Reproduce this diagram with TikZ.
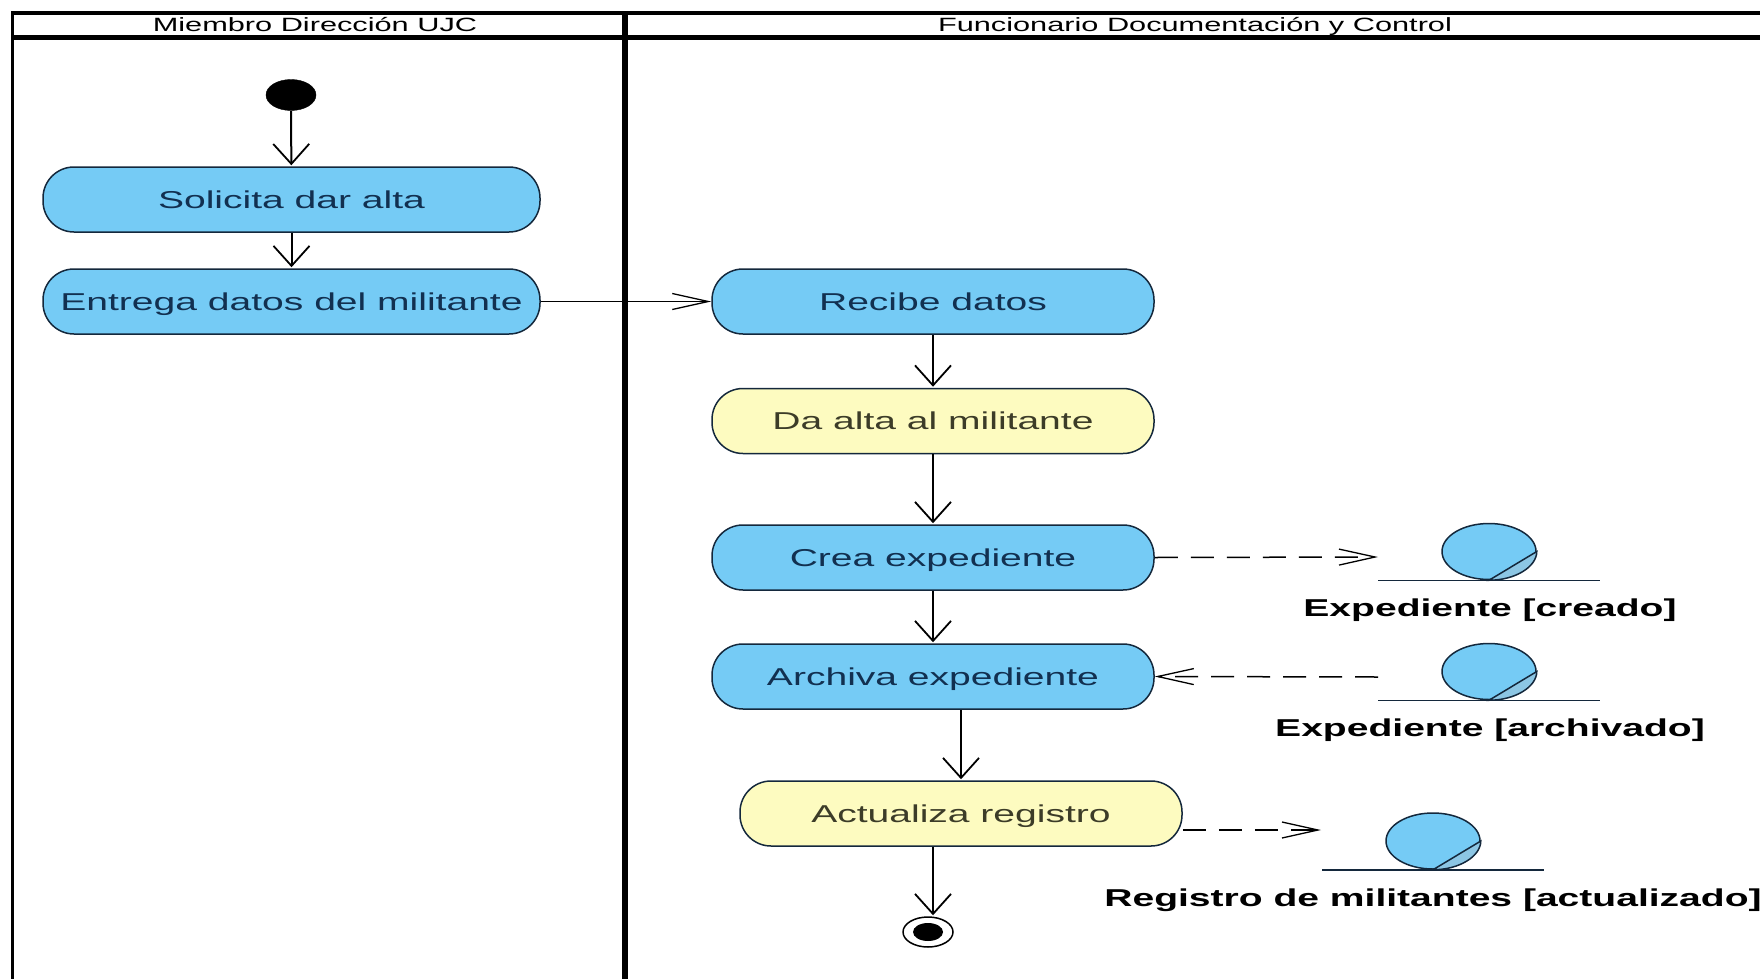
\documentclass[tikz,border=0pt]{standalone}
\usepackage{fontspec}
\setmainfont[FakeStretch=1.6]{Liberation Sans}
\usetikzlibrary{arrows.meta, shapes.geometric}

\definecolor{actblue}{HTML}{75CBF5}
\definecolor{actyellow}{HTML}{FDFBC0}
\definecolor{segblue}{HTML}{8CC6E4}
\definecolor{edgeblue}{HTML}{14283C}
\definecolor{textblue}{HTML}{123050}
\definecolor{textyellow}{HTML}{3C3C28}

\begin{document}
\begin{tikzpicture}[x=1pt, y=-1pt]
				\tikzstyle{lane} = [black, line width=3.5pt]
				\tikzstyle{lanehead} = [inner sep=0pt, text=black, text height=13pt, text depth=0pt, font=\fontsize{19.2}{21}\selectfont]
				\tikzstyle{action} = [draw=edgeblue, line width=1.5pt, rectangle, rounded corners=31pt, minimum width=442pt, minimum height=65pt, inner sep=0pt, text height=17pt, text depth=0pt, font=\fontsize{24.4}{26}\selectfont]
				\tikzstyle{blueact} = [action, fill=actblue, text=textblue]
				\tikzstyle{yellowact} = [action, fill=actyellow, text=textyellow]
				\tikzstyle{objstate} = [draw=edgeblue, line width=1.5pt, fill=actblue, ellipse, minimum width=94pt, minimum height=56pt, inner sep=0pt]
				\tikzstyle{objlabel} = [inner sep=0pt, text=black, text height=17pt, text depth=0pt, font=\fontsize{24.4}{26}\selectfont\bfseries]
				\tikzstyle{vflow} = [line width=2pt, black, -{Straight Barb[length=20pt, width=36pt, line width=1.8pt]}, shorten >=1pt]
				\tikzstyle{hflow} = [line width=1.5pt, black, -{Straight Barb[length=36pt, width=16pt, line width=1.3pt]}]
				\tikzstyle{dflow} = [hflow, dash pattern=on 23pt off 13pt]

				\useasboundingbox (0, 0) rectangle (1760, 979);

				% lanes
				\draw[lane] (1760, 13) -- (12.5, 13) -- (12.5, 979);
				\draw[lane, line width=5pt] (12.5, 37.5) -- (1760, 37.5);
				\draw[lane, line width=6pt] (625, 13) -- (625, 979);
				\node[lanehead] at (315, 25) (lane1) {Miembro Dirección UJC};
				\node[lanehead] at (1195, 25) (lane2) {Funcionario Documentación y Control};

				% actions
				\node[draw=black, fill=black, ellipse, minimum width=50pt, minimum height=31pt, inner sep=0pt] at (291, 95) (start) {};
				\node[blueact, minimum width=497pt] 	at (291.5, 199.5) 	(solicita) 	{Solicita dar alta};
				\node[blueact, minimum width=497pt] 	at (291.5, 301.5) 	(entrega) 	{Entrega datos del militante};
				\node[blueact] 	at (933, 301.5) 	(recibe) 	{Recibe datos};
				\node[yellowact] 	at (933, 421) 	(daalta) 	{Da alta al militante};
				\node[blueact] 	at (933, 557.5) 	(crea) 	{Crea expediente};
				\node[blueact] 	at (933, 676.5) 	(archiva) 	{Archiva expediente};
				\node[yellowact] 	at (961, 813.5) 	(actualiza) 	{Actualiza registro};
				\node[draw=black, line width=1.5pt, fill=white, ellipse, minimum width=50pt, minimum height=30pt, inner sep=0pt] at (928, 932) (fin) {};
				\node[fill=black, ellipse, minimum width=30pt, minimum height=18pt, inner sep=0pt] at (928, 932) (findot) {};

				% objects
				\node[objstate] at (1489, 551.5) (obj1) {};
				\node[objstate] at (1489, 671.5) (obj2) {};
				\node[objstate] at (1433, 841) (obj3) {};
				\node[objlabel] at (1490, 608) (lab1) {Expediente [creado]};
				\node[objlabel] at (1490, 728) (lab2) {Expediente [archivado]};
				\node[objlabel] at (1433, 898) (lab3) {Registro de militantes [actualizado]};
				\foreach \obj in {obj1, obj2, obj3} {
					\draw[draw=edgeblue, line width=1.5pt, fill=segblue] (\obj.east) .. controls +(0, 15.4) and ([xshift=26pt]\obj.south) .. (\obj.south) -- cycle;
					\draw[edgeblue, line width=1.5pt] (\obj.south) ++(-111, 0) -- ++(222, 0);
				}
				\coordinate (end1) at (1378, 557);
				\coordinate (end2) at (1378, 677);
				\coordinate (end3) at (1321, 830);

				\path[vflow]
				(start)	edge	(solicita)
				(solicita)	edge	(entrega)
				(recibe)	edge	(daalta)
				(daalta)	edge	(crea)
				(crea)	edge	(archiva)
				(archiva.south -| actualiza.north)	edge	(actualiza.north)
				(actualiza.south -| recibe.south)	edge	(fin.north -| recibe.south);

				\draw[hflow] (entrega) -- (recibe);
				\draw[dflow] (crea.east) -- (end1);
				\draw[dflow] (end2) -- (archiva.east);
				\draw[dflow] (actualiza.east |- end3) -- (end3);
				\end{tikzpicture}
\end{document}
